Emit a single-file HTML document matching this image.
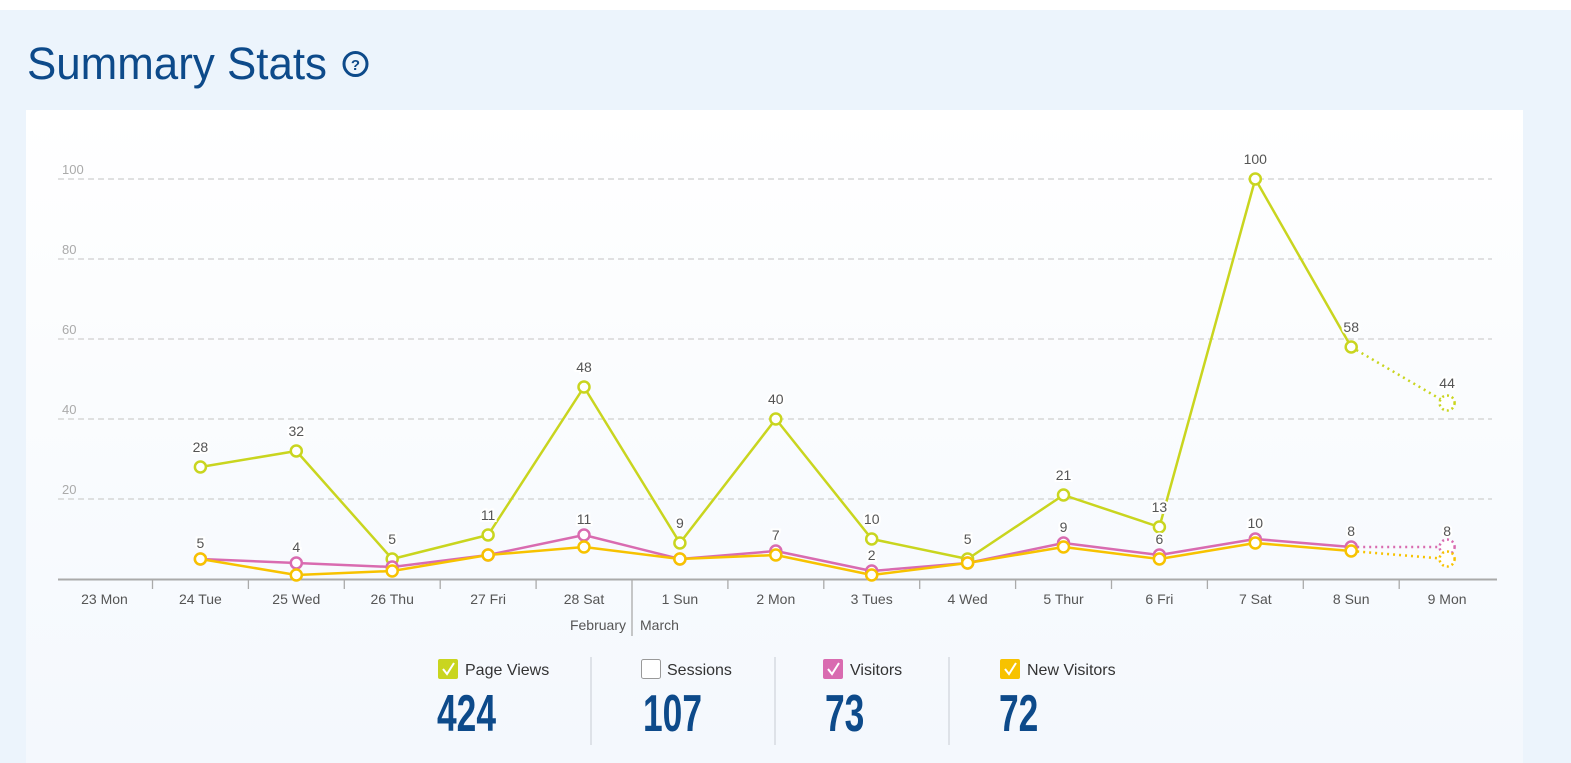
<!DOCTYPE html>
<html><head><meta charset="utf-8"><style>
html,body{margin:0;padding:0;width:1571px;height:763px;overflow:hidden;background:#fff;font-family:"Liberation Sans",sans-serif}
</style></head><body>
<svg width="1571" height="763" xmlns="http://www.w3.org/2000/svg" font-family="Liberation Sans, sans-serif">
<defs><linearGradient id="g" x1="0" y1="0" x2="0" y2="1"><stop offset="0" stop-color="#ffffff"/><stop offset="1" stop-color="#f4f8fd"/></linearGradient></defs>
<rect x="0" y="10" width="1571" height="753" fill="#ecf4fc"/>
<rect x="26" y="110" width="1497" height="653" fill="url(#g)"/>
<text x="27" y="79" font-size="45" fill="#0d4a8a" textLength="300" lengthAdjust="spacingAndGlyphs">Summary Stats</text>
<circle cx="355.5" cy="64" r="11.5" fill="none" stroke="#0d4a8a" stroke-width="3"/>
<text x="355.5" y="70" font-size="15" font-weight="bold" fill="#0d4a8a" text-anchor="middle">?</text>
<g stroke="#cfcfcf" stroke-width="1.3" stroke-dasharray="6,4">
<line x1="58" y1="179" x2="1492" y2="179"/><line x1="58" y1="259" x2="1492" y2="259"/><line x1="58" y1="339" x2="1492" y2="339"/><line x1="58" y1="419" x2="1492" y2="419"/><line x1="58" y1="499" x2="1492" y2="499"/>
</g>
<g font-size="13" fill="#aaa"><text x="62" y="174">100</text><text x="62" y="254">80</text><text x="62" y="334">60</text><text x="62" y="414">40</text><text x="62" y="494">20</text></g>
<line x1="58" y1="579.5" x2="1497" y2="579.5" stroke="#aaa" stroke-width="2"/>
<g stroke="#aaa" stroke-width="1.3">
<line x1="152.5" y1="580" x2="152.5" y2="589"/><line x1="248.4" y1="580" x2="248.4" y2="589"/><line x1="344.3" y1="580" x2="344.3" y2="589"/><line x1="440.2" y1="580" x2="440.2" y2="589"/><line x1="536.1" y1="580" x2="536.1" y2="589"/><line x1="632" y1="580" x2="632" y2="636"/><line x1="727.9" y1="580" x2="727.9" y2="589"/><line x1="823.8" y1="580" x2="823.8" y2="589"/><line x1="919.7" y1="580" x2="919.7" y2="589"/><line x1="1015.6" y1="580" x2="1015.6" y2="589"/><line x1="1111.5" y1="580" x2="1111.5" y2="589"/><line x1="1207.4" y1="580" x2="1207.4" y2="589"/><line x1="1303.3" y1="580" x2="1303.3" y2="589"/><line x1="1399.2" y1="580" x2="1399.2" y2="589"/>
</g>
<g font-size="14" fill="#555" text-anchor="middle">
<text x="104.5" y="604">23 Mon</text><text x="200.4" y="604">24 Tue</text><text x="296.3" y="604">25 Wed</text><text x="392.2" y="604">26 Thu</text><text x="488.1" y="604">27 Fri</text><text x="584" y="604">28 Sat</text><text x="679.9" y="604">1 Sun</text><text x="775.8" y="604">2 Mon</text><text x="871.7" y="604">3 Tues</text><text x="967.6" y="604">4 Wed</text><text x="1063.5" y="604">5 Thur</text><text x="1159.4" y="604">6 Fri</text><text x="1255.3" y="604">7 Sat</text><text x="1351.2" y="604">8 Sun</text><text x="1447.1" y="604">9 Mon</text>
<text x="626" y="630" text-anchor="end">February</text><text x="640" y="630" text-anchor="start">March</text>
</g>
<g fill="none" stroke-width="2.5" stroke-linejoin="round">
<polyline stroke="#c9d51f" points="200.4,467 296.3,451 392.2,559 488.1,535 584,387 679.9,543 775.8,419 871.7,539 967.6,559 1063.5,495 1159.4,527 1255.3,179 1351.2,347"/>
<line stroke="#c9d51f" stroke-dasharray="2,4" x1="1351.2" y1="347" x2="1447.1" y2="403"/>
<polyline stroke="#d96bb0" points="200.4,559 296.3,563 392.2,567 488.1,555 584,535 679.9,559 775.8,551 871.7,571 967.6,563 1063.5,543 1159.4,555 1255.3,539 1351.2,547"/>
<line stroke="#d96bb0" stroke-dasharray="2,4" x1="1351.2" y1="547" x2="1447.1" y2="547"/>
<polyline stroke="#f7c200" points="200.4,559 296.3,575 392.2,571 488.1,555 584,547 679.9,559 775.8,555 871.7,575 967.6,563 1063.5,547 1159.4,559 1255.3,543 1351.2,551"/>
<line stroke="#f7c200" stroke-dasharray="2,4" x1="1351.2" y1="551" x2="1447.1" y2="559"/>
</g>
<g fill="#fff" stroke-width="2.5">
<g stroke="#c9d51f"><circle cx="200.4" cy="467" r="5.5"/><circle cx="296.3" cy="451" r="5.5"/><circle cx="392.2" cy="559" r="5.5"/><circle cx="488.1" cy="535" r="5.5"/><circle cx="584" cy="387" r="5.5"/><circle cx="679.9" cy="543" r="5.5"/><circle cx="775.8" cy="419" r="5.5"/><circle cx="871.7" cy="539" r="5.5"/><circle cx="967.6" cy="559" r="5.5"/><circle cx="1063.5" cy="495" r="5.5"/><circle cx="1159.4" cy="527" r="5.5"/><circle cx="1255.3" cy="179" r="5.5"/><circle cx="1351.2" cy="347" r="5.5"/><circle cx="1447.1" cy="403" r="7.5" stroke-dasharray="2,3"/></g>
<g stroke="#d96bb0"><circle cx="200.4" cy="559" r="5.5"/><circle cx="296.3" cy="563" r="5.5"/><circle cx="392.2" cy="567" r="5.5"/><circle cx="488.1" cy="555" r="5.5"/><circle cx="584" cy="535" r="5.5"/><circle cx="679.9" cy="559" r="5.5"/><circle cx="775.8" cy="551" r="5.5"/><circle cx="871.7" cy="571" r="5.5"/><circle cx="967.6" cy="563" r="5.5"/><circle cx="1063.5" cy="543" r="5.5"/><circle cx="1159.4" cy="555" r="5.5"/><circle cx="1255.3" cy="539" r="5.5"/><circle cx="1351.2" cy="547" r="5.5"/><circle cx="1447.1" cy="547" r="7.5" stroke-dasharray="2,3"/></g>
<g stroke="#f7c200"><circle cx="200.4" cy="559" r="5.5"/><circle cx="296.3" cy="575" r="5.5"/><circle cx="392.2" cy="571" r="5.5"/><circle cx="488.1" cy="555" r="5.5"/><circle cx="584" cy="547" r="5.5"/><circle cx="679.9" cy="559" r="5.5"/><circle cx="775.8" cy="555" r="5.5"/><circle cx="871.7" cy="575" r="5.5"/><circle cx="967.6" cy="563" r="5.5"/><circle cx="1063.5" cy="547" r="5.5"/><circle cx="1159.4" cy="559" r="5.5"/><circle cx="1255.3" cy="543" r="5.5"/><circle cx="1351.2" cy="551" r="5.5"/><circle cx="1447.1" cy="559" r="7.5" stroke-dasharray="2,3"/></g>
</g>
<g font-size="14" fill="#555" text-anchor="middle" stroke="#fff" stroke-width="4" paint-order="stroke">
<text x="200.4" y="452">28</text><text x="296.3" y="436">32</text><text x="392.2" y="544">5</text><text x="488.1" y="520">11</text><text x="584" y="372">48</text><text x="679.9" y="528">9</text><text x="775.8" y="404">40</text><text x="871.7" y="524">10</text><text x="967.6" y="544">5</text><text x="1063.5" y="480">21</text><text x="1159.4" y="512">13</text><text x="1255.3" y="164">100</text><text x="1351.2" y="332">58</text><text x="1447.1" y="388">44</text>
<text x="200.4" y="548">5</text><text x="296.3" y="552">4</text><text x="584" y="524">11</text><text x="775.8" y="540">7</text><text x="871.7" y="560">2</text><text x="1063.5" y="532">9</text><text x="1159.4" y="544">6</text><text x="1255.3" y="528">10</text><text x="1351.2" y="536">8</text><text x="1447.1" y="536">8</text>
</g>
<g stroke="#d6dbe0" stroke-width="1.5"><line x1="591" y1="657" x2="591" y2="745"/><line x1="775" y1="657" x2="775" y2="745"/><line x1="949" y1="657" x2="949" y2="745"/></g>
<rect x="438" y="659" width="20" height="20" rx="2" fill="#c9d51f"/>
<rect x="641.5" y="659.5" width="19" height="19" rx="2" fill="#fff" stroke="#999"/>
<rect x="823" y="659" width="20" height="20" rx="2" fill="#d96bb0"/>
<rect x="1000" y="659" width="20" height="20" rx="2" fill="#f7c200"/>
<g fill="none" stroke="#fff" stroke-width="2"><polyline points="443,669 447,674 454,663"/><polyline points="828,669 832,674 839,663"/><polyline points="1005,669 1009,674 1016,663"/></g>
<g font-size="16" fill="#333"><text x="465" y="675">Page Views</text><text x="667" y="675">Sessions</text><text x="850" y="675">Visitors</text><text x="1027" y="675">New Visitors</text></g>
<g font-size="52" font-weight="bold" fill="#0d4a8a">
<text transform="translate(437,731) scale(0.68,1)">424</text>
<text transform="translate(643,731) scale(0.68,1)">107</text>
<text transform="translate(825,731) scale(0.68,1)">73</text>
<text transform="translate(999,731) scale(0.68,1)">72</text>
</g>
</svg>
</body></html>
